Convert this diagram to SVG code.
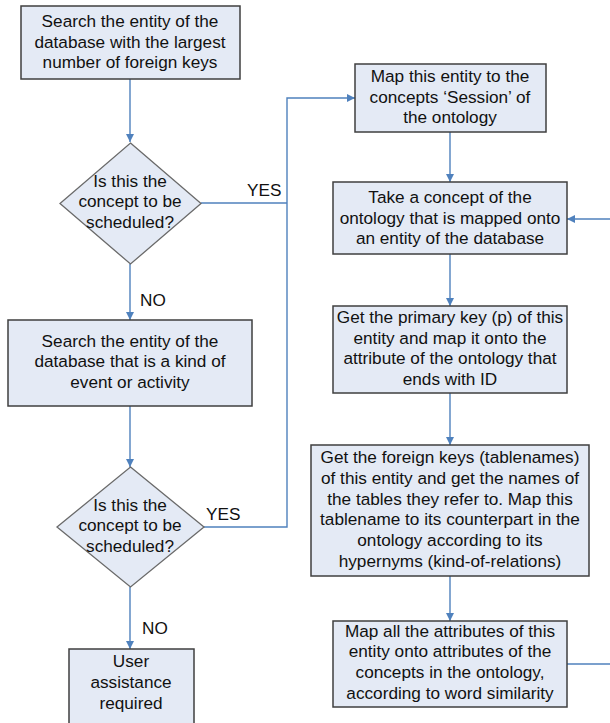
<svg xmlns="http://www.w3.org/2000/svg" width="610" height="723" viewBox="0 0 610 723">
  <style>
    .box { fill: #E4EAF5; stroke: #3F3F3F; stroke-width: 1.5; }
    .dia { fill: #E4EAF5; stroke: #6A6A6A; stroke-width: 1.3; }
    .t { font-family: "Liberation Sans", Arial, sans-serif; font-size: 17.2px; fill: #111; text-anchor: middle; }
    .lbl { font-family: "Liberation Sans", Arial, sans-serif; font-size: 17.2px; fill: #111; }
    .c { fill: none; stroke: #4F81BD; stroke-width: 1.4; }
  </style>
  <defs>
    <marker id="arr" viewBox="0 0 10 10" refX="10" refY="5" markerWidth="8" markerHeight="8" markerUnits="userSpaceOnUse" orient="auto">
      <path d="M0,0 L10,5 L0,10 Z" fill="#4F81BD"/>
    </marker>
  </defs>
  <rect width="610" height="723" fill="#FFFFFF"/>

  <g id="connectors">
    <path class="c" d="M130,79 V142" marker-end="url(#arr)"/>
    <path class="c" d="M130,264 V320" marker-end="url(#arr)"/>
    <path class="c" d="M130,406 V467" marker-end="url(#arr)"/>
    <path class="c" d="M130,587 V649" marker-end="url(#arr)"/>
    <path class="c" d="M201,203 H287"/>
    <path class="c" d="M204,527 H287 V98 H355" marker-end="url(#arr)"/>
    <path class="c" d="M450,132 V182" marker-end="url(#arr)"/>
    <path class="c" d="M450,254 V306" marker-end="url(#arr)"/>
    <path class="c" d="M450,393 V445" marker-end="url(#arr)"/>
    <path class="c" d="M450,576 V621" marker-end="url(#arr)"/>
    <path class="c" d="M610,219 H567" marker-end="url(#arr)"/>
    <path class="c" d="M567,664 H610"/>
    <text class="lbl" x="247" y="196">YES</text>
    <text class="lbl" x="140" y="306">NO</text>
    <text class="lbl" x="206" y="520">YES</text>
    <text class="lbl" x="142" y="634">NO</text>
  </g>

  <g id="search-foreign-keys">
    <rect class="box" x="21" y="6" width="219" height="73"/>
    <text class="t" x="130" y="27">Search the entity of the</text>
    <text class="t" x="130" y="48">database with the largest</text>
    <text class="t" x="130" y="68">number of foreign keys</text>
  </g>

  <g id="decision-1">
    <polygon class="dia" points="130.5,143 201,203.5 130.5,264 60,203.5"/>
    <text class="t" x="130" y="187">Is this the</text>
    <text class="t" x="130" y="207">concept to be</text>
    <text class="t" x="130" y="228">scheduled?</text>
  </g>

  <g id="search-event">
    <rect class="box" x="8" y="320" width="244" height="86"/>
    <text class="t" x="130" y="347">Search the entity of the</text>
    <text class="t" x="130" y="367">database that is a kind of</text>
    <text class="t" x="130" y="388">event or activity</text>
  </g>

  <g id="decision-2">
    <polygon class="dia" points="130.5,467 204,527 130.5,587 57,527"/>
    <text class="t" x="130" y="511">Is this the</text>
    <text class="t" x="130" y="531">concept to be</text>
    <text class="t" x="130" y="552">scheduled?</text>
  </g>

  <g id="user-assistance">
    <rect class="box" x="69" y="649" width="125" height="82"/>
    <text class="t" x="131" y="667">User</text>
    <text class="t" x="131" y="688">assistance</text>
    <text class="t" x="131" y="709">required</text>
  </g>

  <g id="map-session">
    <rect class="box" x="355" y="64" width="191" height="68"/>
    <text class="t" x="450" y="82">Map this entity to the</text>
    <text class="t" x="450" y="103">concepts ‘Session’ of</text>
    <text class="t" x="450" y="123">the ontology</text>
  </g>

  <g id="take-concept">
    <rect class="box" x="333" y="182" width="234" height="72"/>
    <text class="t" x="450" y="203">Take a concept of the</text>
    <text class="t" x="450" y="224">ontology that is mapped onto</text>
    <text class="t" x="450" y="244">an entity of the database</text>
  </g>

  <g id="primary-key">
    <rect class="box" x="333" y="306" width="234" height="87"/>
    <text class="t" x="450" y="323">Get the primary key (p) of this</text>
    <text class="t" x="450" y="344">entity and map it onto the</text>
    <text class="t" x="450" y="364">attribute of the ontology that</text>
    <text class="t" x="450" y="385">ends with ID</text>
  </g>

  <g id="foreign-keys">
    <rect class="box" x="311" y="445" width="278" height="131"/>
    <text class="t" x="450" y="463">Get the foreign keys (tablenames)</text>
    <text class="t" x="450" y="484">of this entity and get the names of</text>
    <text class="t" x="450" y="505">the tables they refer to. Map this</text>
    <text class="t" x="450" y="525">tablename to its counterpart in the</text>
    <text class="t" x="450" y="546">ontology according to its</text>
    <text class="t" x="450" y="567">hypernyms (kind-of-relations)</text>
  </g>

  <g id="map-attributes">
    <rect class="box" x="333" y="621" width="234" height="86"/>
    <text class="t" x="450" y="637">Map all the attributes of this</text>
    <text class="t" x="450" y="657">entity onto attributes of the</text>
    <text class="t" x="450" y="678">concepts in the ontology,</text>
    <text class="t" x="450" y="699">according to word similarity</text>
  </g>
</svg>
